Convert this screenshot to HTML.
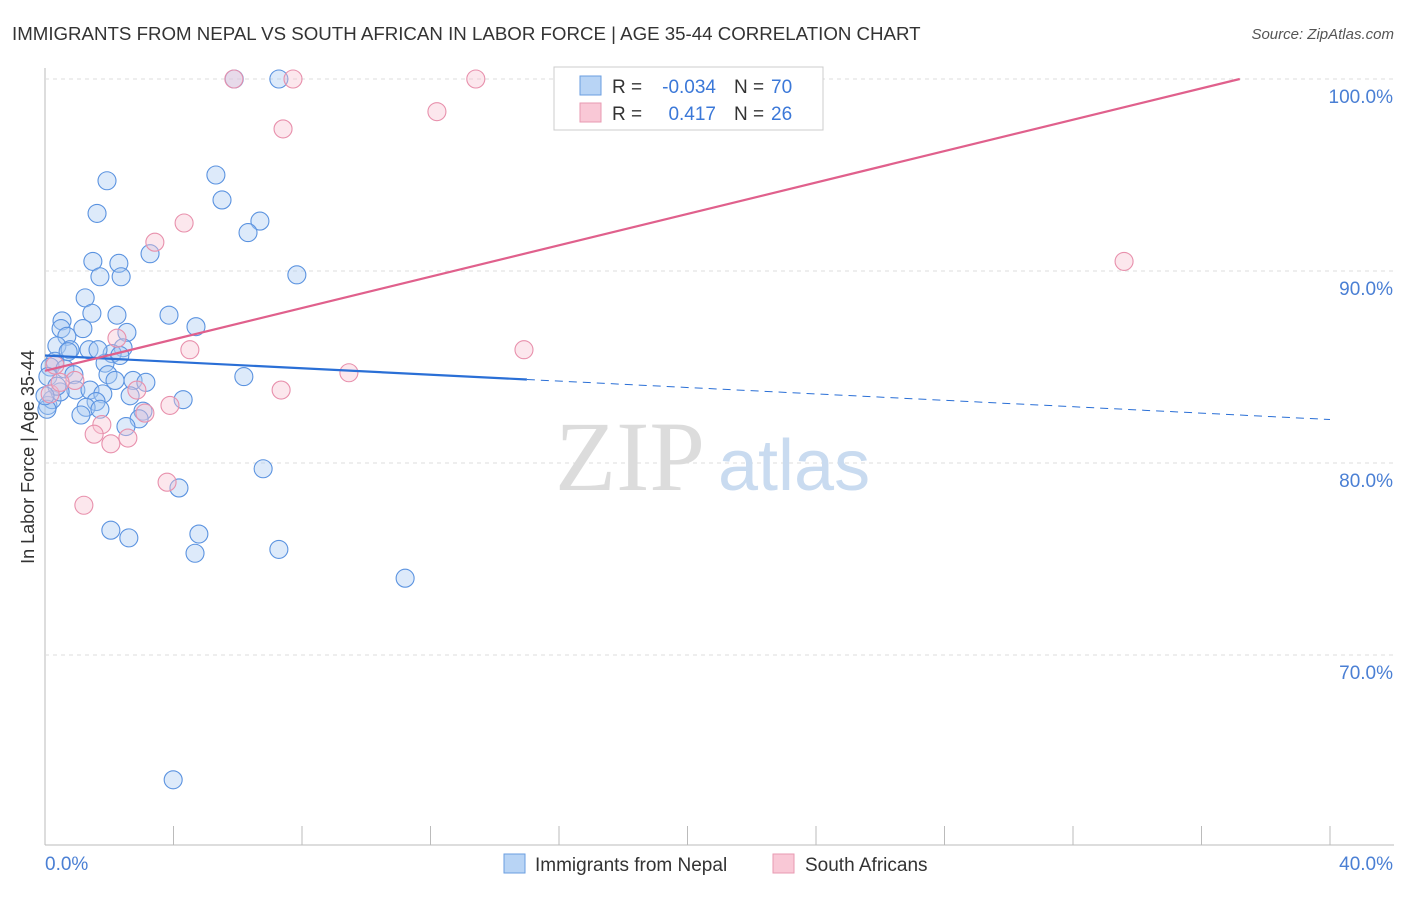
<!DOCTYPE html>
<html><head><meta charset="utf-8"><style>
body{margin:0;background:#fff;font-family:"Liberation Sans",sans-serif;}
</style></head><body>
<svg width="1406" height="892">
<text x="12" y="40" font-size="18.7" fill="#333" style="font-family:'Liberation Sans',sans-serif">IMMIGRANTS FROM NEPAL VS SOUTH AFRICAN IN LABOR FORCE | AGE 35-44 CORRELATION CHART</text>
<text x="1394" y="39" font-size="15" fill="#555" font-style="italic" text-anchor="end" style="font-family:'Liberation Sans',sans-serif">Source: ZipAtlas.com</text>
<g id="grid"></g>
<text x="555" y="490" font-size="100" fill="#dcdcdc" style="font-family:'Liberation Serif',serif">ZIP</text>
<text x="718" y="490" font-size="72" fill="#c9dbf0" style="font-family:'Liberation Sans',sans-serif">atlas</text>
<g id="pts"></g>
<g id="lines"></g>
<text transform="translate(34,457) rotate(-90)" font-size="18" fill="#333" text-anchor="middle" style="font-family:'Liberation Sans',sans-serif">In Labor Force | Age 35-44</text>
<rect x="554" y="67" width="269" height="63" fill="#fff" stroke="#ccc"/>
<rect x="580" y="76" width="21" height="19" fill="#b8d4f5" stroke="#6a9ee0"/>
<rect x="580" y="103" width="21" height="19" fill="#f9c8d6" stroke="#e89ab2"/>
<g font-size="19" style="font-family:'Liberation Sans',sans-serif">
<text x="612" y="93" fill="#333">R =</text>
<text x="716" y="93" fill="#3b78d8" text-anchor="end">-0.034</text>
<text x="734" y="93" fill="#333">N =</text>
<text x="771" y="93" fill="#3b78d8">70</text>
<text x="612" y="120" fill="#333">R =</text>
<text x="716" y="120" fill="#3b78d8" text-anchor="end">0.417</text>
<text x="734" y="120" fill="#333">N =</text>
<text x="771" y="120" fill="#3b78d8">26</text>
</g>
<rect x="504" y="854" width="21" height="19" fill="#b8d4f5" stroke="#6a9ee0"/>
<text x="535" y="871" font-size="19" fill="#333" style="font-family:'Liberation Sans',sans-serif">Immigrants from Nepal</text>
<rect x="773" y="854" width="21" height="19" fill="#f9c8d6" stroke="#e89ab2"/>
<text x="805" y="871" font-size="19" fill="#333" style="font-family:'Liberation Sans',sans-serif">South Africans</text>
</svg>
<script>
const yTicks=[100,90,80,70];
const xTickLabels=["0.0%","40.0%"];
const nepalX=[5.89,7.28,1.93,5.32,1.62,5.51,6.69,6.32,3.27,1.49,2.30,1.71,2.37,7.84,1.25,1.46,2.24,3.86,0.53,4.70,0.50,1.18,2.55,0.68,0.37,0.78,1.37,2.43,2.09,0.31,1.87,0.16,0.62,0.90,1.96,0.09,2.18,2.74,3.14,6.19,0.96,1.40,1.80,2.65,4.30,1.59,1.28,1.71,1.12,3.05,2.93,0.09,0.22,2.52,6.79,4.17,2.05,2.61,4.79,4.67,7.28,11.21,3.99,0.06,0.47,0.37,2.33,1.65,0.72,0.0];
const nepalY=[100,100,94.7,95.0,93.0,93.7,92.6,92.0,90.9,90.5,90.4,89.7,89.7,89.8,88.6,87.8,87.7,87.7,87.4,87.1,87.0,87.0,86.8,86.6,86.1,85.9,85.9,86.0,85.7,85.3,85.2,85.0,84.9,84.6,84.6,84.5,84.3,84.3,84.2,84.5,83.8,83.8,83.6,83.5,83.3,83.2,82.9,82.8,82.5,82.7,82.3,83.0,83.3,81.9,79.7,78.7,76.5,76.1,76.3,75.3,75.5,74.0,63.5,82.8,83.7,84.0,85.6,85.9,85.8,83.5];
const saX=[5.88,7.72,13.41,12.20,7.41,4.33,3.42,33.59,2.24,4.51,14.91,0.31,0.93,2.86,7.35,9.46,3.89,3.11,1.77,1.53,2.58,2.05,3.80,1.21,0.16,0.47];
const saY=[100,100,100,98.3,97.4,92.5,91.5,90.5,86.5,85.9,85.9,85.1,84.3,83.8,83.8,84.7,83.0,82.6,82.0,81.5,81.3,81.0,79.0,77.8,83.6,84.2];
const nepalLine={y0:85.6,slope:-0.0834};
const saLine={y0:84.8,slope:0.4087};
const X=v=>45+v/40*1285, Y=v=>79+(100-v)*19.2;
const NS="http://www.w3.org/2000/svg";
function mk(t,a,p){const e=document.createElementNS(NS,t);for(const k in a)e.setAttribute(k,a[k]);p.appendChild(e);return e;}
const grid=document.getElementById('grid');
const ya=mk('line',{x1:45,y1:68,x2:45,y2:845,stroke:'#bbb'},grid);


const xa=mk('line',{x1:45,y1:845,x2:1394,y2:845,stroke:'#bbb'},grid);


for(let i=0;i<=10;i++){const l=mk('line',{x1:45+i*128.5,y1:826,x2:45+i*128.5,y2:845,stroke:'#bbb'},grid);

}
yTicks.forEach(v=>{const l=mk('line',{x1:45,y1:Y(v),x2:1394,y2:Y(v),stroke:'#ddd','stroke-dasharray':'4,4'},grid);


const t=mk('text',{x:1393,y:Y(v)+24,'font-size':19,fill:'#4a7fd4','text-anchor':'end',style:"font-family:'Liberation Sans',sans-serif"},grid);t.textContent=v.toFixed(1)+'%';

});
xTickLabels.forEach((s,i)=>{const t=mk('text',{x:i?1393:45,y:870,'font-size':19,fill:'#4a7fd4','text-anchor':i?'end':'start',style:"font-family:'Liberation Sans',sans-serif"},grid);t.textContent=s;

});
const pts=document.getElementById('pts');
nepalX.forEach((x,i)=>{const c=mk('circle',{cx:X(x),cy:Y(nepalY[i]),r:9,fill:'rgba(170,202,242,0.4)',stroke:'#5b93e0','stroke-width':1.1},pts);

});
saX.forEach((x,i)=>{const c=mk('circle',{cx:X(x),cy:Y(saY[i]),r:9,fill:'rgba(248,194,210,0.4)',stroke:'#e890ac','stroke-width':1.1},pts);

});
const ln=document.getElementById('lines');
const b1=mk('line',{x1:X(0),y1:Y(nepalLine.y0),x2:X(15),y2:Y(nepalLine.y0+15*nepalLine.slope),stroke:'#2a6fd6','stroke-width':2.2},ln);


const b2=mk('line',{x1:X(15),y1:Y(nepalLine.y0+15*nepalLine.slope),x2:X(40),y2:Y(nepalLine.y0+40*nepalLine.slope),stroke:'#2a6fd6','stroke-width':1,'stroke-dasharray':'8,6'},ln);


const xEnd=(100-saLine.y0)/saLine.slope;
const p1=mk('line',{x1:X(0),y1:Y(saLine.y0),x2:X(xEnd),y2:Y(100),stroke:'#e0608c','stroke-width':2.2},ln);


</script>
</body></html>
